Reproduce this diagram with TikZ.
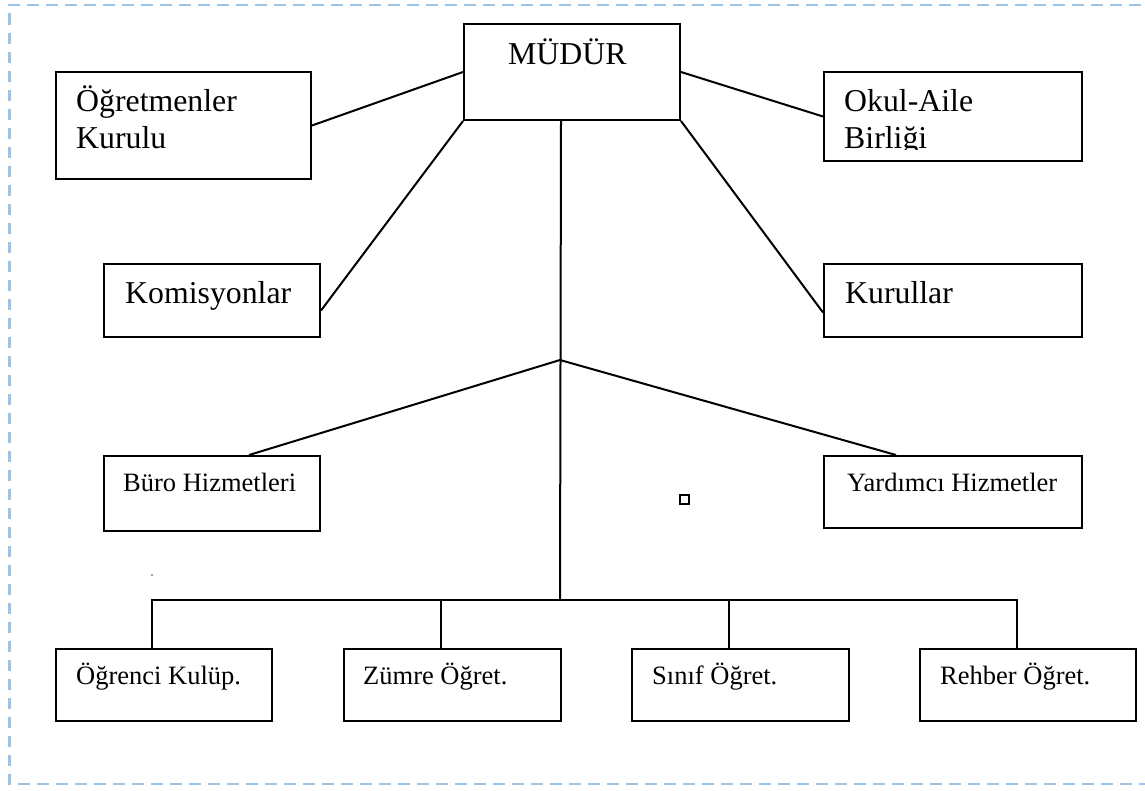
\documentclass[tikz,border=0pt]{standalone}
\usepackage{fontspec}
\setmainfont{Liberation Serif}
\usetikzlibrary{calc}
\definecolor{frameblue}{RGB}{157,195,230}
\tikzset{
  orgbox/.style={draw=black, line width=2pt, fill=none, rectangle, inner sep=0pt, anchor=north west},
  bigtxt/.style={anchor=base west, inner sep=0pt, font=\fontsize{31.8}{36}\selectfont},
  smalltxt/.style={anchor=base west, inner sep=0pt, font=\fontsize{26.5}{30}\selectfont},
  link/.style={draw=black, line width=2pt},
  frame/.style={draw=frameblue, line width=2.6pt, dash pattern=on 11.7pt off 7.3pt}
}
\begin{document}
\begin{tikzpicture}[x=1pt,y=-1pt]
\useasboundingbox (0,0) rectangle (1145,790);
% dashed frame
\draw[frame] (1160,5) -- (9.5,5) -- (9.5,784) -- (1160,784);

% boxes
\node[orgbox, minimum width=216pt, minimum height=96pt] (mudur) at (463,23) {};
\node[orgbox, minimum width=255pt, minimum height=107pt] (ogrk) at (55,71) {};
\node[orgbox, minimum width=258pt, minimum height=89pt] (okul) at (823,71) {};
\node[orgbox, minimum width=216pt, minimum height=73pt] (komis) at (103,263) {};
\node[orgbox, minimum width=258pt, minimum height=73pt] (kurul) at (823,263) {};
\node[orgbox, minimum width=216pt, minimum height=75pt] (buro) at (103,455) {};
\node[orgbox, minimum width=258pt, minimum height=72pt] (yard) at (823,455) {};
\node[orgbox, minimum width=216pt, minimum height=72pt] (ogrc) at (55,648) {};
\node[orgbox, minimum width=217pt, minimum height=72pt] (zumre) at (343,648) {};
\node[orgbox, minimum width=217pt, minimum height=72pt] (sinif) at (631,648) {};
\node[orgbox, minimum width=216pt, minimum height=72pt] (rehber) at (919,648) {};

% texts
\node[bigtxt] (tmudur) at (508,64) {MÜDÜR};
\node[bigtxt] (togr1) at (76,111) {Öğretmenler};
\node[bigtxt] (togr2) at (76,148) {Kurulu};
\node[bigtxt] (tokul1) at (844,111) {Okul-Aile};
\begin{scope}
\clip (823,71) rectangle (1081,149);
\node[bigtxt] (tokul2) at (844,148) {Birliği};
\end{scope}
\node[bigtxt] (tkomis) at (125,303) {Komisyonlar};
\node[bigtxt] (tkurul) at (845,303) {Kurullar};
\node[smalltxt] (tburo) at (123,491) {Büro Hizmetleri};
\node[smalltxt] (tyard) at (847,491) {Yardımcı Hizmetler};
\node[smalltxt] (togrc) at (76,684) {Öğrenci Kulüp.};
\node[smalltxt] (tzumre) at (363,684) {Zümre Öğret.};
\node[smalltxt] (tsinif) at (652,684) {Sınıf Öğret.};
\node[smalltxt] (trehber) at (940,684) {Rehber Öğret.};

% coordinates
\path ([xshift=-11pt]mudur.south) coordinate (trunk);
\coordinate (junc) at (560,360);
\coordinate (bus) at (560,600);
\path ([xshift=-12pt]ogrc.north) coordinate (d1);
\path ([xshift=-12pt]zumre.north) coordinate (d2);
\path ([xshift=-12pt]sinif.north) coordinate (d3);
\path ([xshift=-11pt]rehber.north) coordinate (d4);

% connectors
\draw[link] (ogrk.east) -- (mudur.west);
\draw[link] (okul.west) -- (mudur.east);
\draw[link] (mudur.south west) -- ([yshift=-10pt]komis.east);
\draw[link] (mudur.south east) -- ([yshift=-12pt]kurul.west);
\draw[link] (trunk) -- (bus);
\draw[link] (junc) -- ([xshift=37pt]buro.north);
\draw[link] (junc) -- ([xshift=-57pt]yard.north);
\draw[link] (d1) |- (bus) -| (d4);
\draw[link] (d2) -- (d2 |- bus);
\draw[link] (d3) -- (d3 |- bus);

% small marks
\node[draw=black, line width=2pt, minimum size=9pt, inner sep=0pt] (sq) at (684,499) {};
\fill[black!70] (152,575) circle (0.8pt);
\end{tikzpicture}
\end{document}
